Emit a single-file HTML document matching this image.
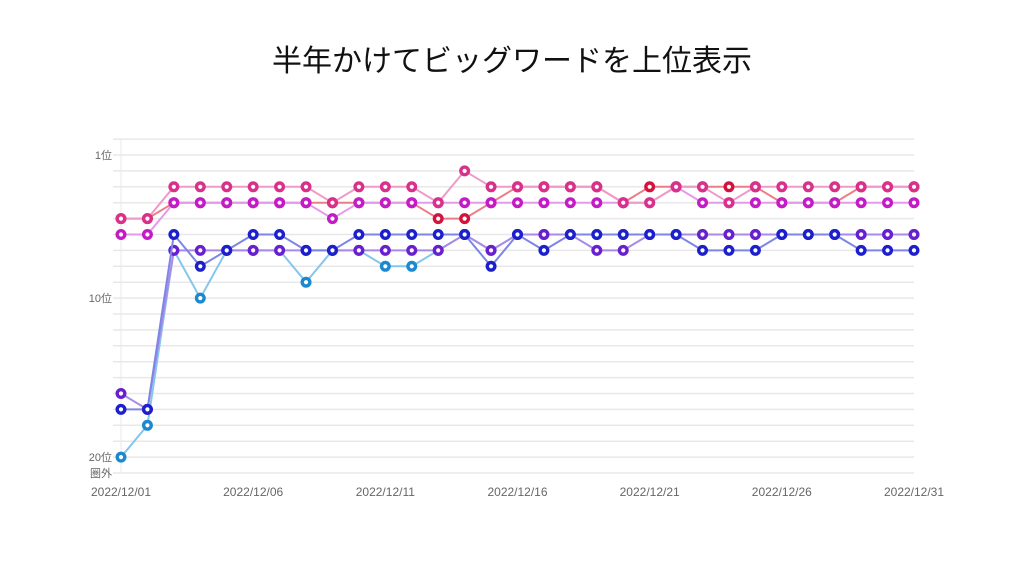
<!DOCTYPE html>
<html><head><meta charset="utf-8"><style>
body{margin:0;background:#fff;width:1024px;height:577px;overflow:hidden;font-family:"Liberation Sans","Noto Sans CJK JP",sans-serif}
#title{position:absolute;top:36px;left:0;width:1024px;text-align:center;font-size:30px;color:#111}
svg{position:absolute;left:0;top:0}
</style></head><body>
<div id="title">半年かけてビッグワードを上位表示</div>
<svg id="chart" width="1024" height="577"></svg>
<script>
const dates=["2022/12/01","2022/12/06","2022/12/11","2022/12/16","2022/12/21","2022/12/26","2022/12/31"];
const rankLabels=["1位","10位","20位","圏外"];
const rankTicks=[1,10,20,21];
const seriesPink=[5,5,3,3,3,3,3,3,4,3,3,3,4,2,3,3,3,3,3,4,4,3,3,4,3,3,3,3,3,3,3];
const seriesRed=[5,5,4,4,4,4,4,4,4,4,4,4,5,5,4,3,3,3,3,4,3,3,3,3,3,4,4,4,3,3,3];
const seriesMagenta=[6,6,4,4,4,4,4,4,5,4,4,4,4,4,4,4,4,4,4,4,4,3,4,4,4,4,4,4,4,4,4];
const seriesNavy=[17,17,6,8,7,6,6,7,7,6,6,6,6,6,8,6,7,6,6,6,6,6,7,7,7,6,6,6,7,7,7];
const seriesPurple=[16,17,7,7,7,7,7,7,7,7,7,7,7,6,7,6,6,6,7,7,6,6,6,6,6,6,6,6,6,6,6];
const seriesSky=[20,18,7,10,7,7,7,9,7,7,8,8,7,6,7,6,6,6,6,6,6,6,6,6,6,6,6,6,6,6,6];
const NS="http://www.w3.org/2000/svg";
const svg=document.getElementById('chart');
const x=i=>121+i*(914-121)/30;
const y=r=>155+(r-1)*15.9;
function mk(t,a){const e=document.createElementNS(NS,t);for(const k in a)e.setAttribute(k,a[k]);svg.appendChild(e);return e;}
for(let r=0;r<=21;r++){
  const g=mk('line',{x1:113,x2:914,y1:y(r),y2:y(r),stroke:'#e8e8e8','stroke-width':1.5});
  
  
}
const ax=mk('line',{x1:121,x2:121,y1:y(0),y2:y(21),stroke:'#e8e8e8','stroke-width':1});


rankLabels.forEach((l,i)=>{
  const t=mk('text',{x:112,y:y(rankTicks[i])+4,'text-anchor':'end','font-size':11,fill:'#666'});
  t.textContent=l;
  
  
});
dates.forEach((d,i)=>{
  const t=mk('text',{x:x(i*5),y:496,'text-anchor':'middle','font-size':12,fill:'#666'});
  t.textContent=d;
  
  
});
const series=[
 [seriesSky,'#86c5ec','#1b88d0','series-keyword-f'],
 [seriesPurple,'#a98ae8','#6a1fcf','series-keyword-e'],
 [seriesNavy,'#7d86e6','#1c1fcc','series-keyword-d'],
 [seriesRed,'#ec7d86','#d3123e','series-keyword-b'],
 [seriesMagenta,'#e59ae9','#c31bc6','series-keyword-c'],
 [seriesPink,'#f09ac8','#d8318c','series-keyword-a']
];
series.forEach(([vals,lc,mc,name])=>{
  const p=mk('polyline',{points:vals.map((v,i)=>x(i)+','+y(v)).join(' '),fill:'none',stroke:lc,'stroke-width':2});
  
  
  vals.forEach((v,i)=>{
    const c=mk('circle',{cx:x(i),cy:y(v),r:3.8,fill:'#fff',stroke:mc,'stroke-width':3.4});
    
    
  });
});
</script>
</body></html>
